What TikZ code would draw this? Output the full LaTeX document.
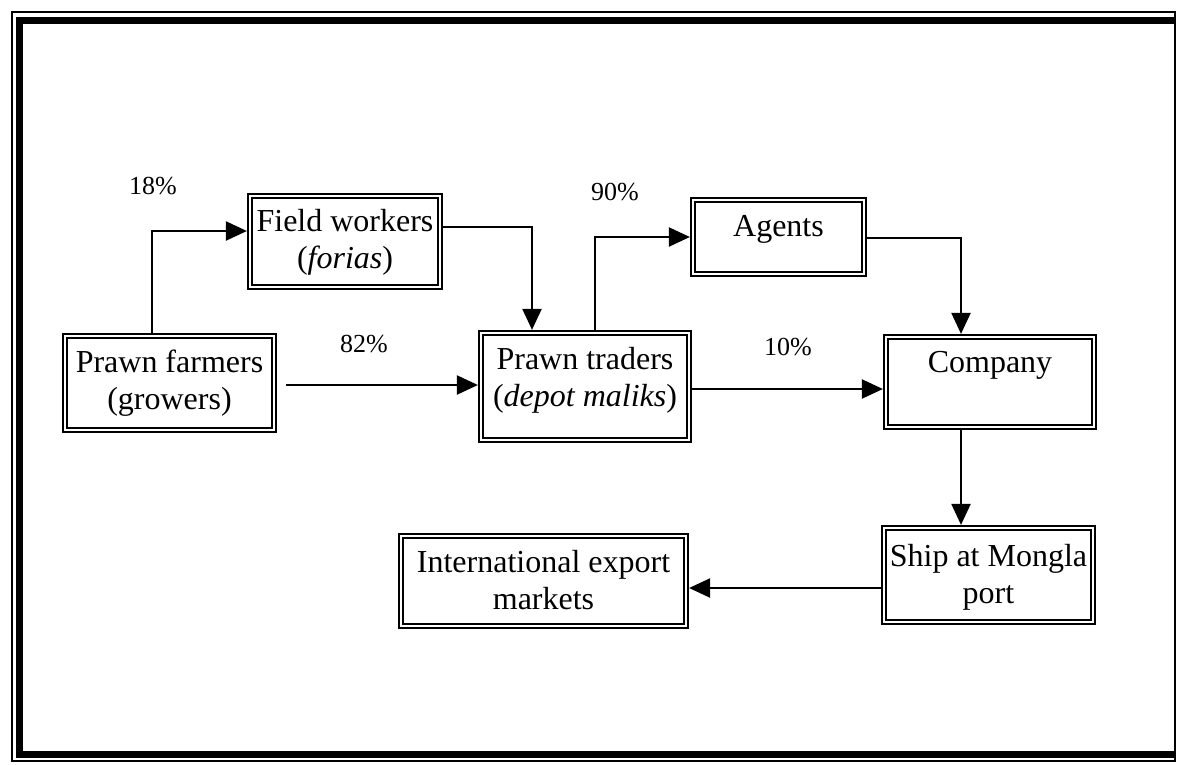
\documentclass[tikz,border=0pt]{standalone}
\usepackage{fontspec}
\setmainfont{Liberation Serif}
\usetikzlibrary{arrows.meta}
\newcommand{\bxtext}[4]{\parbox[c][#2][t]{#1}{\vspace*{#3}\centering #4}}
\tikzset{
  flowbox/.style={draw, line width=2.2pt, double=white, double distance=2pt,
    inner sep=0pt, font=\fontsize{32}{37}\selectfont},
  arr/.style={line width=2.2pt, -{Triangle[length=21pt,width=19pt]}, shorten >=2pt},
  pct/.style={font=\fontsize{26}{30}\selectfont, inner sep=0pt},
  framethin/.style={line width=1.3pt},
  framethick/.style={line width=7pt}
}
\begin{document}
\begin{tikzpicture}[x=1pt,y=-1pt]
\useasboundingbox (0,0) rectangle (1178,764);
% outer frame
\draw[framethin] (1175,12) -- (12,12) -- (12,761) -- (1175,761) -- cycle;
\draw[framethick] (1176,20) -- (19,20) -- (19,754) -- (1176,754);

% boxes
\node[flowbox] (farmers) at (169.5,383) {\bxtext{209pt}{94pt}{14pt}{Prawn farmers\\(growers)}};
\node[flowbox] (field) at (345,241.5) {\bxtext{190pt}{91pt}{13pt}{Field workers\\(\textit{forias})}};
\node[flowbox] (traders) at (585,386.5) {\bxtext{208pt}{107pt}{14pt}{Prawn traders\\(\textit{depot maliks})}};
\node[flowbox] (agents) at (778.5,237) {\bxtext{171pt}{74pt}{15pt}{Agents}};
\node[flowbox] (company) at (990,382) {\bxtext{208pt}{90pt}{14pt}{Company}};
\node[flowbox] (ship) at (988.5,575) {\bxtext{209pt}{94pt}{16pt}{Ship at Mongla\\port}};
\node[flowbox] (intl) at (543.5,581) {\bxtext{285pt}{90pt}{14pt}{International export\\markets}};

% percentage labels
\node[pct] (p18) at (153,186) {18\%};
\node[pct] (p90) at (615,192) {90\%};
\node[pct] (p82) at (364,344) {82\%};
\node[pct] (p10) at (788,347) {10\%};

% bend coordinates
\coordinate (c1) at (152,231);
\coordinate (c2) at (286,385);
\coordinate (c3) at (532,227);
\coordinate (c4) at (595,237);
\coordinate (c5) at (961,238);
\coordinate (c6) at (700,389);
\coordinate (c7) at (700,588);

% connectors
\draw[arr] (c1 |- farmers.north) |- (c1 -| field.west);
\draw[arr] (c2) -- (c2 -| traders.west);
\draw[arr] (field.east |- c3) -| (traders.north -| c3);
\draw[arr] (traders.north -| c4) |- (agents.west |- c4);
\draw[arr] (agents.east |- c5) -| (company.north -| c5);
\draw[arr] (traders.east |- c6) -- (company.west |- c6);
\draw[arr] (company.south -| c5) -- (ship.north -| c5);
\draw[arr] (ship.west |- c7) -- (intl.east |- c7);
\end{tikzpicture}
\end{document}
